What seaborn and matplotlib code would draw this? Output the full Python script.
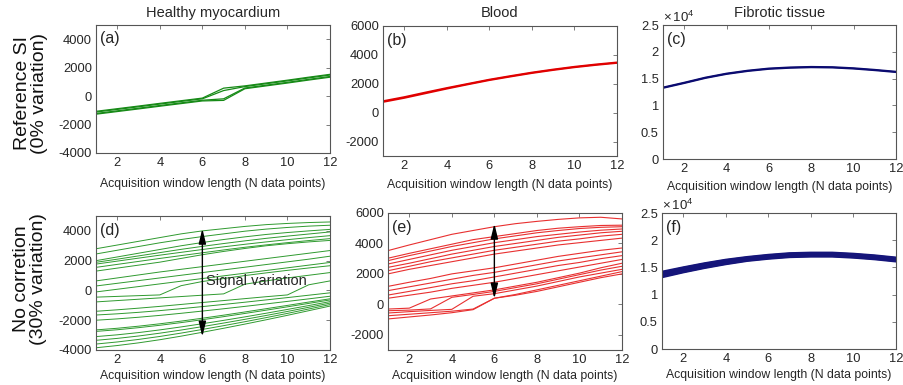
import matplotlib
matplotlib.use("Agg")
import matplotlib.pyplot as plt
import numpy as np
import pandas as pd
import seaborn as sns
from matplotlib.ticker import FuncFormatter

sns.set_theme(style="white")
plt.rcParams["font.family"] = ["Liberation Sans", "DejaVu Sans"]
plt.rcParams["mathtext.fontset"] = "custom"
plt.rcParams["mathtext.rm"] = "Liberation Sans"
plt.rcParams["axes.unicode_minus"] = False

# ---------------- data ----------------
x_points = [1, 2, 3, 4, 5, 6, 7, 8, 9, 10, 11, 12]
x_ticks = [2, 4, 6, 8, 10, 12]
column_titles = ["Healthy myocardium", "Blood", "Fibrotic tissue"]
row_titles = ["Reference SI\n(0% variation)", "No corretion\n(30% variation)"]
panel_tags = ["(a)", "(b)", "(c)", "(d)", "(e)", "(f)"]
x_label = "Acquisition window length (N data points)"
arrow_label = "Signal variation"

# (a) healthy myocardium, reference
healthy_ref = [
    [-1070, -885, -700, -510, -325, -140, 560, 720, 920, 1120, 1330, 1530],
    [-1120, -935, -750, -560, -375, -190, 390, 670, 870, 1070, 1280, 1480],
    [-1220, -1035, -850, -660, -475, -290, -190, 570, 770, 970, 1180, 1380],
    [-1270, -1085, -900, -710, -525, -340, -300, 520, 720, 920, 1130, 1330],
]
# (b) blood, reference
blood_ref = [
    [800, 1080, 1400, 1710, 2000, 2290, 2540, 2780, 2990, 3180, 3340, 3480],
    [740, 1020, 1340, 1660, 1960, 2250, 2500, 2740, 2950, 3140, 3300, 3440],
]
# (c) fibrotic tissue, reference
fibrotic_ref = [
    [13350, 14250, 15200, 15950, 16500, 16900, 17100, 17200, 17150, 16950, 16650, 16300],
    [13250, 14150, 15100, 15850, 16400, 16800, 17000, 17100, 17050, 16850, 16550, 16200],
]
# (d) healthy myocardium, no correction
healthy_nocorr = [
    [2800, 3050, 3300, 3550, 3800, 4000, 4150, 4300, 4420, 4500, 4560, 4600],
    [2450, 2700, 2950, 3200, 3420, 3620, 3800, 3980, 4120, 4230, 4320, 4380],
    [2000, 2250, 2500, 2750, 3000, 3220, 3420, 3600, 3760, 3890, 4000, 4100],
    [1890, 2100, 2320, 2540, 2760, 2960, 3150, 3330, 3500, 3650, 3790, 3930],
    [1770, 1970, 2170, 2370, 2560, 2750, 2930, 3100, 3260, 3410, 3550, 3680],
    [1550, 1750, 1950, 2150, 2340, 2530, 2720, 2900, 3060, 3210, 3350, 3480],
    [1300, 1500, 1700, 1900, 2150, 2400, 2620, 2820, 3000, 3140, 3260, 3360],
    [640, 840, 1040, 1240, 1420, 1600, 1780, 1960, 2140, 2320, 2500, 2680],
    [300, 480, 660, 840, 1020, 1200, 1380, 1560, 1740, 1920, 2100, 2300],
    [-100, 80, 260, 440, 620, 800, 980, 1160, 1340, 1520, 1700, 1880],
    [-450, -400, -350, -300, 320, 600, 800, 1000, 1180, 1350, 1510, 1660],
    [-770, -680, -590, -500, -410, -320, -230, 420, 640, 840, 1020, 1200],
    [-1400, -1300, -1190, -1070, -940, -810, -680, -550, -420, -300, 380, 640],
    [-1650, -1570, -1470, -1355, -1225, -1085, -940, -790, -635, -480, -320, -160],
    [-2000, -1910, -1800, -1675, -1535, -1385, -1230, -1070, -905, -735, -565, -390],
    [-2650, -2540, -2400, -2240, -2060, -1865, -1660, -1445, -1225, -1005, -780, -560],
    [-2750, -2640, -2500, -2340, -2160, -1965, -1760, -1545, -1325, -1100, -870, -640],
    [-3100, -2980, -2830, -2650, -2450, -2235, -2010, -1775, -1530, -1275, -1015, -750],
    [-3350, -3220, -3060, -2870, -2660, -2430, -2190, -1940, -1680, -1410, -1130, -850],
    [-3600, -3460, -3290, -3090, -2865, -2620, -2365, -2100, -1825, -1540, -1245, -950],
    [-3850, -3700, -3520, -3310, -3070, -2810, -2540, -2260, -1970, -1670, -1360, -1050],
]
# (e) blood, no correction
blood_nocorr = [
    [3530, 3900, 4250, 4600, 4850, 5100, 5300, 5450, 5580, 5680, 5720, 5610],
    [3030, 3350, 3650, 3950, 4250, 4450, 4650, 4850, 5000, 5100, 5180, 5200],
    [2870, 3200, 3500, 3800, 4050, 4300, 4500, 4700, 4850, 4980, 5060, 5100],
    [2650, 2950, 3250, 3550, 3800, 4050, 4250, 4450, 4600, 4750, 4870, 4950],
    [2430, 2700, 3000, 3300, 3550, 3800, 4000, 4200, 4400, 4550, 4700, 4800],
    [2210, 2500, 2800, 3050, 3300, 3550, 3750, 3950, 4150, 4300, 4480, 4600],
    [2000, 2300, 2550, 2800, 3050, 3300, 3500, 3700, 3900, 4050, 4200, 4350],
    [1180, 1450, 1700, 2000, 2200, 2400, 2650, 2900, 3150, 3350, 3550, 3700],
    [900, 1150, 1400, 1650, 1900, 2100, 2350, 2600, 2850, 3050, 3250, 3450],
    [610, 850, 1100, 1350, 1550, 1800, 2050, 2300, 2550, 2750, 3000, 3200],
    [400, 600, 800, 1050, 1250, 1450, 1700, 1950, 2200, 2450, 2700, 2950],
    [-310, -250, 350, 550, 750, 950, 1200, 1450, 1750, 2050, 2400, 2700],
    [-420, -380, -300, 460, 650, 850, 1100, 1350, 1650, 1950, 2250, 2500],
    [-570, -480, -400, -330, 530, 700, 950, 1200, 1500, 1800, 2050, 2300],
    [-750, -650, -550, -450, -310, 400, 650, 950, 1250, 1550, 1850, 2150],
    [-960, -830, -700, -550, -350, 400, 600, 850, 1150, 1450, 1750, 2000],
]
# (f) fibrotic tissue, no correction
fibrotic_nocorr = [
    [13200, 14100, 14900, 15600, 16200, 16600, 16900, 17000, 17000, 16800, 16500, 16100],
    [13350, 14200, 15000, 15700, 16300, 16700, 17000, 17100, 17100, 16900, 16600, 16200],
    [13500, 14350, 15150, 15850, 16400, 16800, 17100, 17200, 17200, 17000, 16700, 16300],
    [13600, 14450, 15250, 15950, 16500, 16900, 17200, 17300, 17300, 17100, 16800, 16400],
    [13750, 14600, 15400, 16100, 16600, 17000, 17300, 17400, 17400, 17200, 16900, 16500],
    [13900, 14750, 15500, 16200, 16700, 17100, 17400, 17500, 17500, 17300, 17000, 16600],
    [14050, 14900, 15650, 16300, 16800, 17200, 17500, 17600, 17600, 17400, 17100, 16700],
    [14200, 15000, 15750, 16400, 16900, 17300, 17600, 17700, 17700, 17500, 17200, 16800],
]

# ---------------- drawing ----------------
W, H = 904, 385
fig = plt.figure(figsize=(W / 100, H / 100), dpi=100)


def pos(l, r, t, b):
    return [l / W, 1 - b / H, (r - l) / W, (b - t) / H]


def draw(ax, lines, color, lw):
    rows = [(i, x, v) for i, line in enumerate(lines) for x, v in zip(x_points, line)]
    df = pd.DataFrame(rows, columns=["line", "x", "y"])
    sns.lineplot(data=df, x="x", y="y", units="line", estimator=None,
                 color=color, lw=lw, ax=ax, legend=False)


def style(ax, ylim, yticks, tag, sci=False, labelpad=3):
    ax.set_xlim(1, 12)
    ax.set_ylim(*ylim)
    ax.set_xticks(x_ticks)
    ax.set_yticks(yticks)
    if sci:
        ax.yaxis.set_major_formatter(FuncFormatter(lambda v, p: "%g" % (v / 1e4)))
    ax.tick_params(direction="in", length=3, width=0.6, top=True, right=True,
                   labelsize=9.3, color="#666666", labelcolor="#262626", pad=3)
    for s in ax.spines.values():
        s.set_visible(True)
        s.set_color("#555555")
        s.set_linewidth(0.8)
    ax.set_xlabel(x_label, fontsize=8.8, color="#262626", labelpad=labelpad)
    ax.set_ylabel("")
    ax.text(0.018, 0.95, tag, transform=ax.transAxes, ha="left", va="top",
            fontsize=11.5, color="#262626")
    if sci:
        ax.text(0.0, 1.0, r"$\times\,10^{4}$", transform=ax.transAxes,
                ha="left", va="bottom", fontsize=9.5, color="#262626")


ax_a = fig.add_axes(pos(96, 330, 25, 153))
ax_b = fig.add_axes(pos(383, 617, 26, 156))
ax_c = fig.add_axes(pos(663, 896, 25, 159))
ax_d = fig.add_axes(pos(96, 330, 216, 350))
ax_e = fig.add_axes(pos(388, 622, 213, 350))
ax_f = fig.add_axes(pos(662, 896, 213, 349))

draw(ax_a, healthy_ref, "#168a16", 0.9)
draw(ax_b, blood_ref, "#e00000", 1.3)
draw(ax_c, fibrotic_ref, "#0b0b70", 1.3)
draw(ax_d, healthy_nocorr, "#2f9a2f", 0.7)
draw(ax_e, blood_nocorr, "#e83030", 0.8)
draw(ax_f, fibrotic_nocorr, "#15157a", 1.6)

style(ax_a, (-4000, 5000), [-4000, -2000, 0, 2000, 4000], panel_tags[0], labelpad=6.5)
style(ax_b, (-3000, 6000), [-2000, 0, 2000, 4000, 6000], panel_tags[1], labelpad=5)
style(ax_c, (0, 25000), [0, 5000, 10000, 15000, 20000, 25000], panel_tags[2], sci=True, labelpad=4)
style(ax_d, (-4000, 5000), [-4000, -2000, 0, 2000, 4000], panel_tags[3])
style(ax_e, (-3000, 6000), [-2000, 0, 2000, 4000, 6000], panel_tags[4])
style(ax_f, (0, 25000), [0, 5000, 10000, 15000, 20000, 25000], panel_tags[5], sci=True)

arrow_kw = dict(arrowstyle="<|-|>,head_length=0.9,head_width=0.22", color="black",
                lw=1.0, shrinkA=0, shrinkB=0, mutation_scale=10)
ax_d.annotate("", xy=(6, 4150), xytext=(6, -3100), arrowprops=arrow_kw)
ax_e.annotate("", xy=(6, 5300), xytext=(6, 380), arrowprops=arrow_kw)
ax_d.text(6.15, 650, arrow_label, ha="left", va="center", fontsize=10.5, color="#262626")

# column titles
for ax, title in zip([ax_a, ax_b, ax_c], column_titles):
    bb = ax.get_position()
    fig.text((bb.x0 + bb.x1) / 2, 1 - 13 / H, title, ha="center", va="center",
             fontsize=10.5, color="#262626")

# row titles
fig.text(31 / W, 1 - 93 / H, row_titles[0], rotation=90, ha="center", va="center",
         fontsize=14, color="#111111", linespacing=1.05)
fig.text(30 / W, 1 - 279 / H, row_titles[1], rotation=90, ha="center", va="center",
         fontsize=14, color="#111111", linespacing=1.05)

fig.savefig("out.png", dpi=100)
